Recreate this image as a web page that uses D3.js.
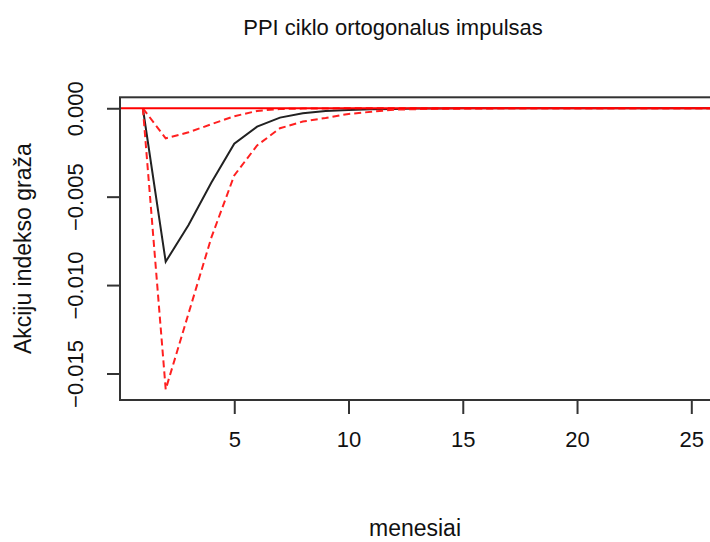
<!DOCTYPE html>
<html>
<head>
<meta charset="utf-8">
<script src="https://cdn.jsdelivr.net/npm/d3@7"></script>
<style>
body { margin: 0; background: #fff; }
text { font-family: "Liberation Sans", Arial, sans-serif; fill: #111; }
</style>
</head>
<body>
<svg id="chart" width="710" height="542"></svg>
<script>
// months ahead
var months = [1, 2, 3, 4, 5, 6, 7, 8, 9, 10, 11, 12, 13, 14, 15, 16, 17, 18, 19, 20, 21, 22, 23, 24, 25, 26];

// orthogonal impulse response + bootstrap band
var irf   = [0, -0.00868, -0.0066, -0.0042, -0.0020, -0.00104, -0.00053, -0.00028, -0.00015, -0.0001, -0.00006, -0.00004, -0.00002, -0.00001, 0, 0, 0, 0, 0, 0, 0, 0, 0, 0, 0, 0];
var lower = [0, -0.0159, -0.0116, -0.0073, -0.0038, -0.0021, -0.00113, -0.00075, -0.00055, -0.00032, -0.0002, -0.00008, -0.00005, -0.00003, -0.00002, -0.00001, 0, 0, 0, 0, 0, 0, 0, 0, 0, 0];
var upper = [0, -0.0017, -0.00136, -0.0009, -0.00045, -0.00015, -0.00004, -0.00002, -0.00001, 0, 0, 0, 0, 0, 0, 0, 0, 0, 0, 0, 0, 0, 0, 0, 0, 0];

var xTicks = [5, 10, 15, 20, 25];
var yTicks = [0, -0.005, -0.010, -0.015];

var svg = d3.select("#chart");

// plot region (note: "top" is taken by window.top)
var pLeft = 120, pRight = 737, pTop = 97.3, pBottom = 400;

var x = d3.scaleLinear().domain([0, 27]).range([pLeft, pRight]);
var y = d3.scaleLinear().domain([0.00062, -0.0165]).range([pTop, pBottom]);

svg.append("clipPath").attr("id", "plotclip")
    .append("rect")
        .attr("x", pLeft).attr("y", pTop)
        .attr("width", pRight - pLeft).attr("height", pBottom - pTop);

var plot = svg.append("g").attr("clip-path", "url(#plotclip)");

function series(vals) {
    return months.map(function (m, i) { return [m, vals[i]]; });
}

var line = d3.line()
    .x(function (d) { return x(d[0]); })
    .y(function (d) { return y(d[1]); });

plot.append("path")
    .datum(series(irf))
    .attr("d", line)
    .attr("fill", "none")
    .attr("stroke", "#222")
    .attr("stroke-width", 2);

[lower, upper].forEach(function (band) {
    plot.append("path")
        .datum(series(band))
        .attr("d", line)
        .attr("fill", "none")
        .attr("stroke", "#ff2020")
        .attr("stroke-width", 2)
        .attr("stroke-dasharray", "7,4");
});

// zero line
plot.append("line")
    .attr("x1", pLeft).attr("x2", pRight)
    .attr("y1", y(0)).attr("y2", y(0))
    .attr("stroke", "#ff0000")
    .attr("stroke-width", 2);

// box
svg.append("rect")
    .attr("x", pLeft).attr("y", pTop)
    .attr("width", pRight - pLeft).attr("height", pBottom - pTop)
    .attr("fill", "none")
    .attr("stroke", "#333")
    .attr("stroke-width", 2);

// x axis
var xAxis = d3.axisBottom(x).tickValues(xTicks).tickSize(14).tickPadding(17).tickFormat(d3.format("d"));
var gx = svg.append("g").attr("transform", "translate(0," + pBottom + ")").call(xAxis);
gx.select(".domain").remove();
gx.selectAll("line").attr("stroke", "#333").attr("stroke-width", 2);
gx.selectAll("text").style("font-size", "22px").attr("fill", "#111")
    .style("font-family", "'Liberation Sans', Arial, sans-serif");

// y axis, labels turned like R's las=0
var yAxis = d3.axisLeft(y).tickValues(yTicks).tickSize(13).tickFormat(d3.format(".3f"));
var gy = svg.append("g").attr("transform", "translate(" + pLeft + ",0)").call(yAxis);
gy.select(".domain").remove();
gy.selectAll("line").attr("stroke", "#333").attr("stroke-width", 2);
gy.selectAll("text")
    .style("font-size", "22px").attr("fill", "#111")
    .style("font-family", "'Liberation Sans', Arial, sans-serif")
    .attr("x", 0).attr("dy", null)
    .attr("text-anchor", "middle")
    .attr("transform", "translate(-37,0) rotate(-90)");

svg.append("text")
    .attr("x", 393).attr("y", 35)
    .attr("text-anchor", "middle")
    .style("font-size", "22px")
    .text("PPI ciklo ortogonalus impulsas");

svg.append("text")
    .attr("x", 415).attr("y", 536)
    .attr("text-anchor", "middle")
    .style("font-size", "23px")
    .text("menesiai");

svg.append("text")
    .attr("transform", "translate(31," + ((pTop + pBottom) / 2) + ") rotate(-90)")
    .attr("text-anchor", "middle")
    .style("font-size", "23px")
    .text("Akciju indekso graža");
</script>
</body>
</html>
